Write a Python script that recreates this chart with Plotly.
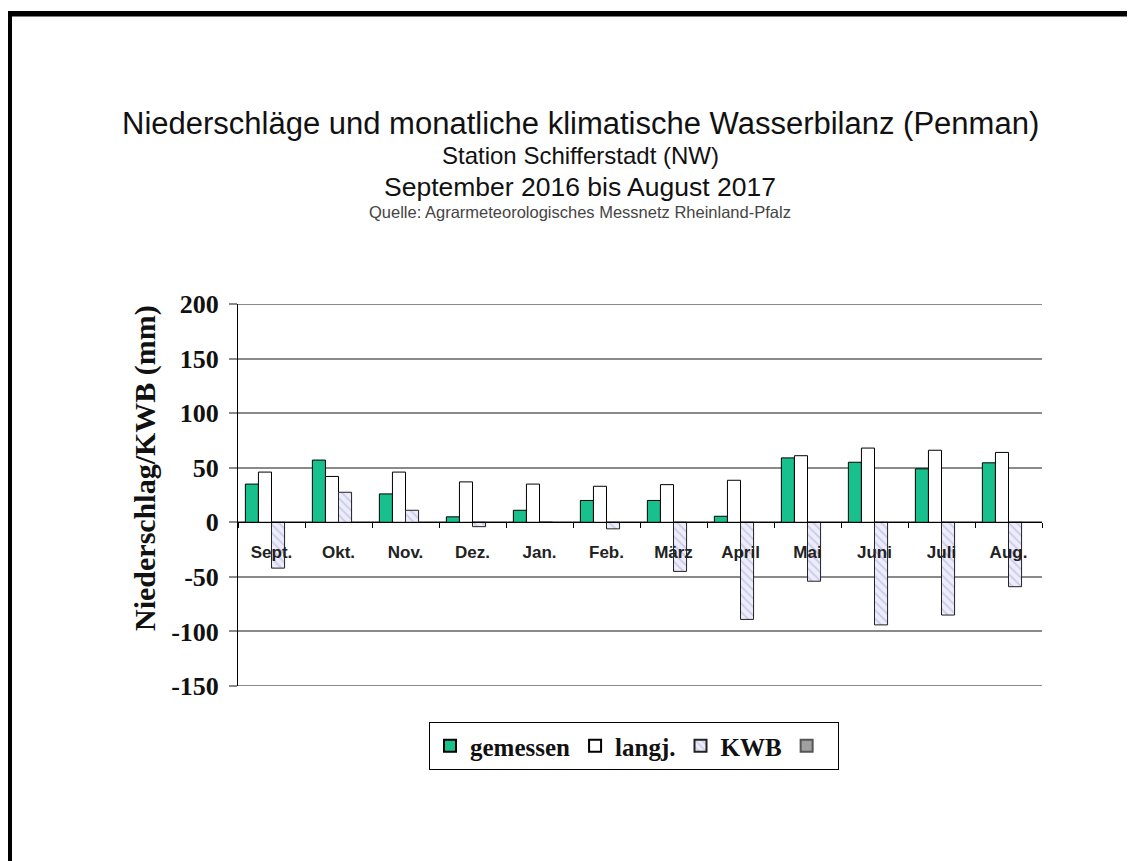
import plotly.graph_objects as go

months = ["Sept.", "Okt.", "Nov.", "Dez.", "Jan.", "Feb.", "März", "April", "Mai", "Juni", "Juli", "Aug."]
gemessen = [35, 57, 26, 5, 11, 20, 20, 5.5, 59, 55, 49, 54.5]
langj = [46, 42, 46, 37, 35, 33, 34.5, 38.5, 61, 68, 66, 64]
kwb = [-42, 27.5, 11, -4, 0, -6, -45, -89, -54, -94, -85, -59]
extra = [None] * 12

y_ticks = [200, 150, 100, 50, 0, -50, -100, -150]

OFF = 8  # page body margin
W, H = 1135 - OFF, 861 - OFF
# plot area in page pixels
L, R, T, B = 238, 1042, 304, 686

def px(x):
    return (x - L) / (R - L)

def py(y):
    return (B - y) / (B - T)

fig = go.Figure()
fig.add_bar(x=months, y=gemessen, name="gemessen",
            marker=dict(color="#17c08c", line=dict(color="#000000", width=1)))
fig.add_bar(x=months, y=langj, name="langj.",
            marker=dict(color="#ffffff", line=dict(color="#000000", width=1)))
fig.add_bar(x=months, y=kwb, name="KWB",
            marker=dict(color="#ececfa", line=dict(color="#222222", width=1),
                        pattern=dict(shape="\\", fgcolor="#a8a8d8", bgcolor="#ececfa", size=6, solidity=0.3)))
fig.add_bar(x=months, y=extra, name=" ",
            marker=dict(color="#a0a0a0", line=dict(color="#555555", width=1)))

fig.update_layout(
    width=W, height=H,
    margin=dict(l=L - OFF, r=(W + OFF) - R, t=T - OFF, b=(H + OFF) - B, pad=0),
    paper_bgcolor="white", plot_bgcolor="white",
    barmode="group", bargap=0.22, bargroupgap=0,
    showlegend=True,
    legend=dict(orientation="h", x=px(634), xanchor="center", y=py(722), yanchor="top",
                bordercolor="#000000", borderwidth=1,
                font=dict(family="Liberation Serif", size=25, color="#111111", weight="bold"),
                itemsizing="constant", tracegroupgap=0, itemwidth=30),
    font=dict(family="Liberation Sans"),
)

fig.update_yaxes(
    range=[-150, 200], tickvals=y_ticks, ticktext=[str(v) for v in y_ticks],
    showgrid=True, gridcolor="#8a8a8a", gridwidth=2,
    zeroline=False,
    showline=True, linecolor="#000000", linewidth=1,
    ticks="outside", ticklen=8, tickcolor="#8a8a8a", tickwidth=2,
    tickfont=dict(family="Liberation Serif", size=26, color="#111111", weight="bold"),
    ticklabelstandoff=5,
    domain=[0, 1],
)

fig.update_xaxes(
    anchor="free", position=150 / 350,
    showline=True, linecolor="#000000", linewidth=1,
    ticks="outside", ticklen=5, tickcolor="#000000", tickwidth=1,
    tickson="boundaries",
    tickfont=dict(family="Liberation Sans", size=17, color="#222222", weight="bold"),
    ticklabelstandoff=14,
    showgrid=False,
)

# grid lines at the range ends (Plotly omits them at the edges)
for v in (200, -150):
    fig.add_shape(type="line", xref="paper", yref="y", x0=px(230), x1=1, y0=v, y1=v,
                  line=dict(color="#8a8a8a", width=2), layer="below")

fig.add_annotation(text="Niederschlag/KWB (mm)", textangle=-90,
                   x=px(145), y=py(468), xref="paper", yref="paper",
                   xanchor="center", yanchor="middle", showarrow=False,
                   font=dict(family="Liberation Serif", size=30, color="#111111", weight="bold"))

titles = [
    ("Niederschläge und monatliche klimatische Wasserbilanz (Penman)", 123, 31),
    ("Station Schifferstadt (NW)", 156, 24),
    ("September 2016 bis August 2017", 187, 26.5),
    ("Quelle: Agrarmeteorologisches Messnetz Rheinland-Pfalz", 212, 16.5),
]
for text, yy, size in titles:
    fig.add_annotation(text=text, x=px(580), y=py(yy), xref="paper", yref="paper",
                       xanchor="center", yanchor="middle", showarrow=False,
                       font=dict(family="Liberation Sans", size=size,
                                 color="#444444" if size < 17 else "#111111"))

# page border (top and left)
fig.add_shape(type="rect", xref="paper", yref="paper",
              x0=px(6), x1=px(1200), y0=py(11), y1=py(16.5),
              fillcolor="#000000", line=dict(width=0), layer="above")
fig.add_shape(type="rect", xref="paper", yref="paper",
              x0=px(0), x1=px(12), y0=py(11), y1=py(900),
              fillcolor="#000000", line=dict(width=0), layer="above")

fig.write_html("out.html")
